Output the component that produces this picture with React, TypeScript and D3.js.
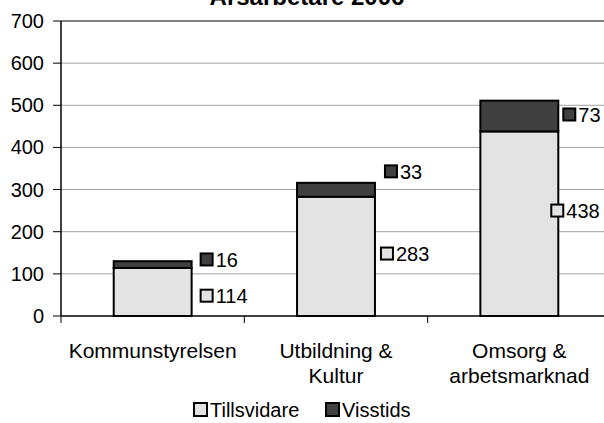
import React from "react";
import * as d3 from "d3";

const categories = [["Kommunstyrelsen"], ["Utbildning &", "Kultur"], ["Omsorg &", "arbetsmarknad"]];
const tillsvidare = [114, 283, 438];
const visstids = [16, 33, 73];
const yTicks = [0, 100, 200, 300, 400, 500, 600, 700];
const seriesNames = ["Tillsvidare", "Visstids"];
// label anchor heights in data units (as placed in the original)
const tillsLabelAt = [47, 147, 249];
const visstLabelAt = [133, 342, 477];
const tillsLabelDx = [8, 5, -8];
const visstLabelDx = [8, 9, 4];

const W = 604, H = 423;
const colors = ["#e3e3e3", "#404040"];
const FONT = "'Liberation Sans', Arial, sans-serif";

export default function App() {
  const left = 61, right = 611, top = 21, bottom = 316;
  const x = d3.scaleBand<number>().domain([0, 1, 2]).range([left, right]).padding(0);
  const y = d3.scaleLinear().domain([0, 700]).range([bottom, top]);
  const bw = x.bandwidth() * 0.425;
  const sq = 13;

  return (
    <svg width={W} height={H} style={{ position: "absolute", left: 0, top: 0, fontFamily: FONT }}>
      <rect width={W} height={H} fill="#fff" />
      <text x={307} y={5} textAnchor="middle" fontSize={24} fontWeight="bold">Årsarbetare 2006</text>
      {yTicks.filter(t => t > 0 && t < 700).map(t => (
        <line key={t} x1={left} x2={W} y1={y(t)} y2={y(t)} stroke="#a0a0a0" strokeWidth={1} />
      ))}
      <line x1={left} x2={W} y1={y(700)} y2={y(700)} stroke="#808080" strokeWidth={2} />
      {categories.map((_, i) => {
        const cx = x(i)! + x.bandwidth() / 2;
        const x0 = cx - bw / 2;
        const yb = y(0), ym = y(tillsvidare[i]), yt = y(tillsvidare[i] + visstids[i]);
        return (
          <g key={i}>
            <rect x={x0} y={ym} width={bw} height={yb - ym} fill={colors[0]} stroke="#000" strokeWidth={2} />
            <rect x={x0} y={yt} width={bw} height={ym - yt} fill={colors[1]} stroke="#000" strokeWidth={2} />
          </g>
        );
      })}
      {categories.map((_, i) => {
        const cx = x(i)! + x.bandwidth() / 2;
        const xr = cx + bw / 2;
        const items = [
          { v: tillsvidare[i], at: tillsLabelAt[i], dx: tillsLabelDx[i], c: colors[0] },
          { v: visstids[i], at: visstLabelAt[i], dx: visstLabelDx[i], c: colors[1] },
        ];
        return items.map((it, k) => {
          const yy = y(it.at);
          const sx = xr + it.dx;
          return (
            <g key={i + "-" + k}>
              <rect x={sx + 1} y={yy - sq / 2} width={sq - 1} height={sq - 1} fill={it.c} stroke="#000" strokeWidth={2} />
              <text x={sx + sq + 3} y={yy + 7} fontSize={20}>{it.v}</text>
            </g>
          );
        });
      })}
      <line x1={left} x2={left} y1={top} y2={bottom} stroke="#000" strokeWidth={1.5} />
      <line x1={left} x2={W} y1={bottom} y2={bottom} stroke="#000" strokeWidth={1.5} />
      {yTicks.map(t => (
        <g key={t}>
          <line x1={left - 8} x2={left} y1={y(t)} y2={y(t)} stroke="#000" strokeWidth={1} />
          <text x={44} y={y(t) + 7} textAnchor="end" fontSize={20}>{t}</text>
        </g>
      ))}
      {[0, 1, 2, 3].map(i => {
        const xx = left + i * x.step();
        return <line key={i} x1={xx} x2={xx} y1={bottom} y2={bottom + 7} stroke="#000" strokeWidth={1} />;
      })}
      {categories.map((lines, i) => {
        const cx = x(i)! + x.bandwidth() / 2;
        return (
          <text key={i} textAnchor="middle" fontSize={21}>
            {lines.map((l, j) => (
              <tspan key={j} x={cx} y={358 + j * 25}>{l}</tspan>
            ))}
          </text>
        );
      })}
      <g>
        <rect x={194} y={403} width={13} height={13} fill={colors[0]} stroke="#000" strokeWidth={2} />
        <text x={210} y={417} fontSize={20}>{seriesNames[0]}</text>
        <rect x={326} y={403} width={13} height={13} fill={colors[1]} stroke="#000" strokeWidth={2} />
        <text x={342} y={417} fontSize={20}>{seriesNames[1]}</text>
      </g>
    </svg>
  );
}
